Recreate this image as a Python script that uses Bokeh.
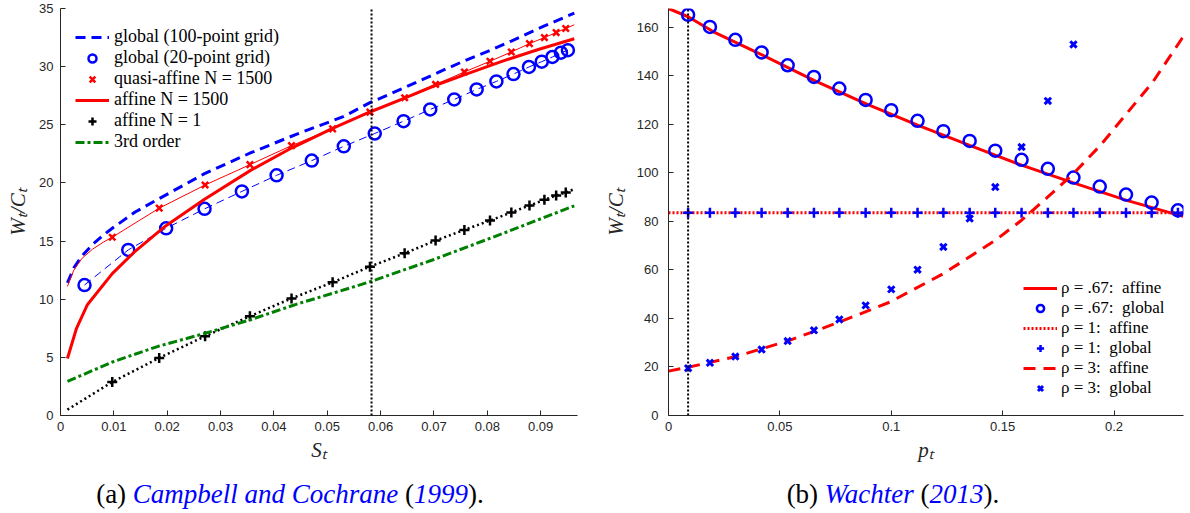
from bokeh.plotting import figure
from bokeh.models import Legend, LegendItem, Div, FixedTicker
from bokeh.layouts import row, column
from bokeh.embed import file_html
from bokeh.resources import INLINE

# ---------------- data: panel (a) Campbell and Cochrane ----------------
S_global100 = [0.0013, 0.0025, 0.004, 0.006, 0.008, 0.0097, 0.014, 0.0183, 0.027, 0.0357,
               0.0443, 0.053, 0.058, 0.0645, 0.0703, 0.0757, 0.0805, 0.0845, 0.0907, 0.0963]
W_global100 = [11.4, 12.7, 13.7, 14.7, 15.5, 16.1, 17.5, 18.6, 20.8, 22.6,
               24.2, 25.7, 26.9, 28.2, 29.4, 30.5, 31.4, 32.2, 33.5, 34.6]

S_global20 = [0.0045, 0.0127, 0.0198, 0.027, 0.034, 0.0405, 0.0471, 0.0531, 0.0589, 0.0643,
              0.0693, 0.0738, 0.078, 0.0817, 0.0849, 0.0878, 0.0902, 0.0922, 0.0938, 0.0951]
W_global20 = [11.22, 14.24, 16.1, 17.77, 19.27, 20.65, 21.92, 23.15, 24.25, 25.31,
              26.32, 27.18, 28.04, 28.73, 29.36, 29.97, 30.43, 30.83, 31.2, 31.41]

S_quasi = [0.0097, 0.0185, 0.0271, 0.0355, 0.0433, 0.051, 0.058, 0.0645,
           0.0703, 0.0757, 0.0805, 0.0845, 0.0879, 0.0907, 0.0929, 0.0947]
W_quasi = [15.33, 17.83, 19.82, 21.57, 23.21, 24.65, 26.09, 27.32,
           28.47, 29.54, 30.46, 31.26, 31.98, 32.5, 32.93, 33.28]
S_quasi_line = [0.0013, 0.0025, 0.004, 0.006, 0.008] + S_quasi + [0.0963]
W_quasi_line = [11.1, 12.5, 13.5, 14.3, 14.9] + W_quasi + [33.6]

S_affine1500 = [0.0013, 0.003, 0.005, 0.0097, 0.0137, 0.0197, 0.027, 0.0357, 0.0433,
                0.051, 0.058, 0.0645, 0.0703, 0.0763, 0.083, 0.0897, 0.0963]
W_affine1500 = [4.9, 7.5, 9.5, 12.2, 14.0, 16.3, 18.6, 21.1, 23.0,
                24.7, 26.1, 27.3, 28.4, 29.4, 30.5, 31.5, 32.4]

S_affine1 = S_quasi
W_affine1 = [2.88, 4.95, 6.82, 8.54, 10.07, 11.45, 12.8, 13.95,
             15.04, 15.96, 16.77, 17.46, 18.06, 18.55, 18.92, 19.18]
S_affine1_line = [0.0013] + S_affine1 + [0.0963]
W_affine1_line = [0.5] + W_affine1 + [19.47]

S_third = [0.0013, 0.0097, 0.0183, 0.027, 0.0357, 0.0443, 0.053, 0.058, 0.0697, 0.083, 0.0963]
W_third = [2.93, 4.6, 5.95, 7.05, 8.25, 9.58, 10.79, 11.5, 13.37, 15.67, 18.03]

S_mark = [0.0583, 0.0583]
W_mark = [0, 35]

a_xticks = [0, 0.01, 0.02, 0.03, 0.04, 0.05, 0.06, 0.07, 0.08, 0.09]
a_xlabels = ["0", "0.01", "0.02", "0.03", "0.04", "0.05", "0.06", "0.07", "0.08", "0.09"]
a_yticks = [0, 5, 10, 15, 20, 25, 30, 35]

# ---------------- data: panel (b) Wachter ----------------
p_grid = [0.0088, 0.0186, 0.03, 0.0418, 0.0535, 0.0653, 0.0767, 0.0885, 0.1, 0.1118,
          0.1234, 0.1352, 0.1467, 0.1585, 0.1703, 0.1818, 0.1936, 0.2054, 0.2169, 0.2287]
W_r067_global = [165.2, 160.2, 154.9, 149.7, 144.4, 139.6, 134.8, 130.1, 125.9, 121.5,
                 117.2, 113.2, 109.2, 105.4, 101.7, 98.1, 94.4, 91.1, 87.8, 84.6]
p_r067_affine = [0, 0.0088, 0.0202, 0.0422, 0.0653, 0.0885, 0.1118, 0.1352, 0.1585, 0.1818, 0.2057, 0.231]
W_r067_affine = [167.8, 164.4, 158.2, 148.6, 138.2, 128.6, 119.7, 111.4, 103.2, 95.9, 88.7, 82.1]

p_r1_affine = [0, 0.231]
W_r1_affine = [83.6, 83.6]
W_r1_global = [83.6] * 20

p_r3_affine = [0, 0.0088, 0.0304, 0.054, 0.0767, 0.0995, 0.1234, 0.1467, 0.1585,
               0.1703, 0.1818, 0.1939, 0.2057, 0.2175, 0.231]
W_r3_affine = [18.3, 19.9, 24.3, 30.9, 38.5, 46.8, 58.5, 72.2, 80.5,
               90.1, 99.7, 111.4, 124.5, 137.6, 156.1]
p_r3_global = p_grid[:16]
W_r3_global = [19.5, 21.7, 24.3, 27.2, 30.7, 35.1, 39.6, 45.4, 52.0, 60.1,
               69.5, 81.2, 94.2, 110.7, 129.7, 153.0]

p_mark = [0.0088, 0.0088]
Wb_mark = [0, 167.8]

b_xticks = [0, 0.05, 0.1, 0.15, 0.2]
b_xlabels = ["0", "0.05", "0.1", "0.15", "0.2"]
b_yticks = [0, 20, 40, 60, 80, 100, 120, 140, 160]

BLUE = "#0000ff"
RED = "#ff0000"
GREEN = "#008000"
AX = "#262626"
SERIF = "Liberation Serif"


def style(p, xticks, xlabels, yticks, xlabel, ylabel):
    p.xgrid.visible = False
    p.ygrid.visible = False
    p.outline_line_color = None
    p.background_fill_color = "white"
    p.border_fill_color = "white"
    p.xaxis.ticker = FixedTicker(ticks=xticks)
    p.xaxis.major_label_overrides = {t: l for t, l in zip(xticks, xlabels)}
    p.yaxis.ticker = FixedTicker(ticks=yticks)
    for ax in (p.xaxis[0], p.yaxis[0]):
        ax.major_tick_in = 5
        ax.major_tick_out = 0
        ax.minor_tick_in = 0
        ax.minor_tick_out = 0
        ax.axis_line_color = AX
        ax.major_tick_line_color = AX
        ax.major_label_text_font = "Liberation Sans"
        ax.major_label_text_font_size = "13px"
        ax.major_label_text_color = AX
        ax.axis_label_text_font = SERIF
        ax.axis_label_text_font_style = "italic"
        ax.axis_label_text_font_size = "21px"
        ax.axis_label_text_color = AX
    p.xaxis.axis_label = xlabel
    p.yaxis.axis_label = ylabel
    p.xaxis.major_label_standoff = 6
    p.xaxis.axis_label_standoff = 4
    p.yaxis.axis_label_standoff = 6


def style_legend(lg, size, gh, standoff, padding):
    lg.background_fill_alpha = 0
    lg.border_line_color = None
    lg.label_text_font = SERIF
    lg.label_text_font_size = size
    lg.label_text_color = "black"
    lg.glyph_width = 34
    lg.glyph_height = gh
    lg.label_height = gh
    lg.spacing = 0
    lg.label_standoff = standoff
    lg.padding = padding
    lg.margin = 0


# ---------------- panel (a) ----------------
p1 = figure(width=600, height=465, x_range=(0, 0.0969), y_range=(0, 35),
            output_backend="svg", toolbar_location=None,
            min_border_left=60, min_border_right=23, min_border_top=8, min_border_bottom=50)
style(p1, a_xticks, a_xlabels, a_yticks, "Sₜ", "Wₜ/Cₜ")
p1.yaxis.major_label_standoff = 7

r_g100 = p1.line(S_global100, W_global100, color=BLUE, line_width=3, line_dash="10 6")
p1.line(S_global20, W_global20, color=BLUE, line_width=1, line_dash="8 5")
r_g20 = p1.scatter(S_global20, W_global20, marker="circle", size=12, fill_color=None,
                   line_color=BLUE, line_width=2.5)
p1.line(S_quasi_line, W_quasi_line, color=RED, line_width=1)
r_q = p1.scatter(S_quasi, W_quasi, marker="x", size=9, line_color=RED, line_width=2.5)
r_a1500 = p1.line(S_affine1500, W_affine1500, color=RED, line_width=3)
p1.line(S_affine1_line, W_affine1_line, color="black", line_width=2.5, line_dash="2 3")
r_a1 = p1.scatter(S_affine1, W_affine1, marker="cross", size=10, line_color="black", line_width=2.5)
r_3 = p1.line(S_third, W_third, color=GREEN, line_width=3, line_dash="9 3 3 3")
p1.line(S_mark, W_mark, color="black", line_width=2, line_dash="2 2")

leg1 = Legend(items=[
    LegendItem(label="global (100-point grid)", renderers=[r_g100]),
    LegendItem(label="global (20-point grid)", renderers=[r_g20]),
    LegendItem(label="quasi-affine N = 1500", renderers=[r_q]),
    LegendItem(label="affine N = 1500", renderers=[r_a1500]),
    LegendItem(label="affine N = 1", renderers=[r_a1]),
    LegendItem(label="3rd order", renderers=[r_3]),
], location=(15, 263))
style_legend(leg1, "18px", 20, 5, 8)
p1.add_layout(leg1)

# ---------------- panel (b) ----------------
p2 = figure(width=590, height=465, x_range=(0, 0.2312), y_range=(0, 167.8),
            output_backend="svg", toolbar_location=None,
            min_border_left=67, min_border_right=7, min_border_top=8, min_border_bottom=50)
style(p2, b_xticks, b_xlabels, b_yticks, "pₜ", "Wₜ/Cₜ")
p2.yaxis.major_label_standoff = 10

r_67a = p2.line(p_r067_affine, W_r067_affine, color=RED, line_width=3)
r_67g = p2.scatter(p_grid, W_r067_global, marker="circle", size=12, fill_color=None,
                   line_color=BLUE, line_width=2.5)
r_1a = p2.line(p_r1_affine, W_r1_affine, color=RED, line_width=3, line_dash="2 2")
r_1g = p2.scatter(p_grid, W_r1_global, marker="cross", size=10, line_color=BLUE, line_width=2.5)
r_3a = p2.line(p_r3_affine, W_r3_affine, color=RED, line_width=3, line_dash="12 8")
r_3g = p2.scatter(p_r3_global, W_r3_global, marker="x", size=9, line_color=BLUE, line_width=3)
p2.line(p_mark, Wb_mark, color="black", line_width=2, line_dash="2 2")

leg2 = Legend(items=[
    LegendItem(label="ρ = .67:  affine", renderers=[r_67a]),
    LegendItem(label="ρ = .67:  global", renderers=[r_67g]),
    LegendItem(label="ρ = 1:  affine", renderers=[r_1a]),
    LegendItem(label="ρ = 1:  global", renderers=[r_1g]),
    LegendItem(label="ρ = 3:  affine", renderers=[r_3a]),
    LegendItem(label="ρ = 3:  global", renderers=[r_3g]),
], location=(355, 17))
style_legend(leg2, "17px", 18, 4, 8)
p2.add_layout(leg2)

# ---------------- captions ----------------
cap_style = {"font-family": "Liberation Serif", "font-size": "27px", "color": "black"}
cap_a = Div(width=600, height=48, margin=0, styles=cap_style,
            text='<div style="display:block;width:580px;text-align:center;padding-top:10px;">'
                 '(a) <i style="color:#0000ff">Campbell and Cochrane</i> '
                 '(<i style="color:#0000ff">1999</i>).</div>')
cap_b = Div(width=590, height=48, margin=0, styles=cap_style,
            text='<div style="display:block;width:566px;padding-left:20px;text-align:center;padding-top:10px;">'
                 '(b) <i style="color:#0000ff">Wachter</i> '
                 '(<i style="color:#0000ff">2013</i>).</div>')

layout = row(column(p1, cap_a), column(p2, cap_b))

open("out.html", "w").write(file_html(layout, INLINE))
